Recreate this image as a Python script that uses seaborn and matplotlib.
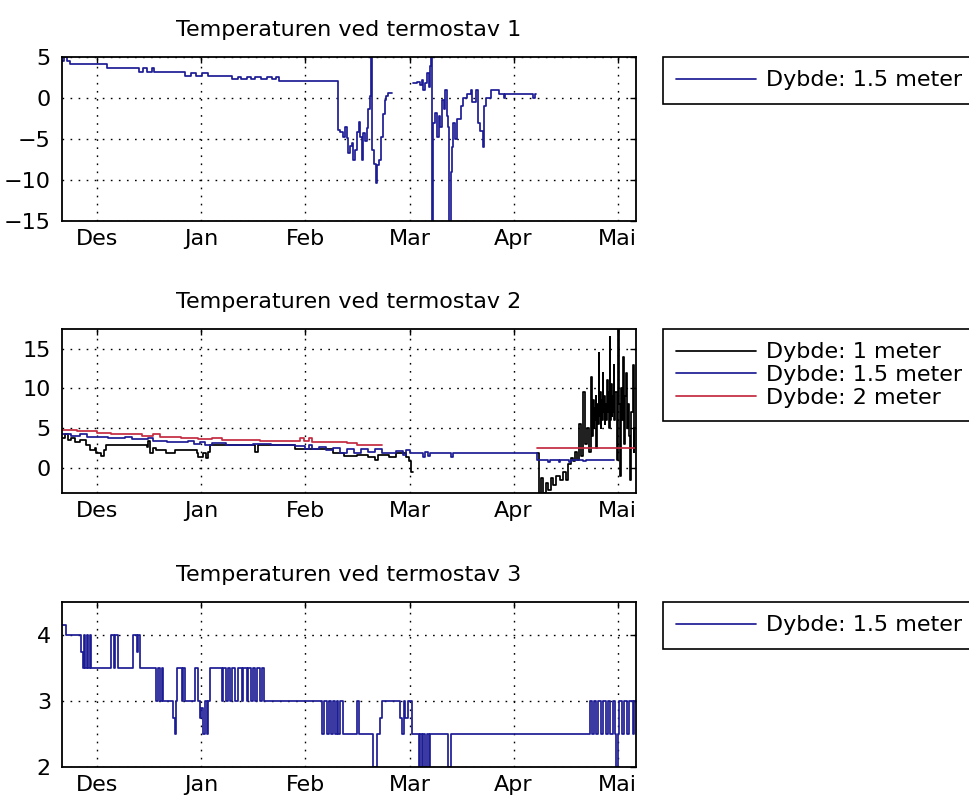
import numpy as np
import pandas as pd
import matplotlib
matplotlib.use("Agg")
import matplotlib.pyplot as plt
from matplotlib.lines import Line2D
import seaborn as sns

sns.set_style("white")
plt.rcParams['font.family'] = ['DejaVu Sans']
plt.rcParams['font.size'] = 16
plt.rcParams['text.color'] = 'black'
plt.rcParams['axes.labelcolor'] = 'black'
plt.rcParams['xtick.color'] = 'black'
plt.rcParams['ytick.color'] = 'black'

# x-akse: dager regnet fra 1. desember, jevnt fordelte maanedsmerker
month_ticks = [0, 30, 60, 90, 120, 150]
month_labels = ['Des', 'Jan', 'Feb', 'Mar', 'Apr', 'Mai']
x_lim = (-10.2, 155.3)

nan = np.nan

# Termostav 1, dybde 1.5 m
t1_day = [-10.2, -9.6, -8.8, -8.0, 2.9, 12.0, 13.2, 14.4, 15.7, 16.3, 25.4, 27.0, 28.3,
          30.2, 32.0, 38.7, 40.5, 41.5, 43.0, 44.2, 45.5, 47.2, 49.0, 50.3, 51.5, 52.3,
          69.3, 70.0, 70.9, 71.4, 71.9, 72.4, 72.9, 73.3, 73.8, 74.3, 74.8, 75.3, 75.7,
          76.2, 76.7, 77.2, 77.7, 78.1, 78.6, 78.9, 79.3, 79.9, 80.3, 80.7, 81.3, 81.8,
          82.3, 82.8, 83.2, 83.9, 84.9,
          84.95,
          91.1, 92.1, 93.1, 93.5, 94.0, 94.5, 95.0, 95.5, 95.9, 96.1, 96.6, 96.9, 97.4,
          97.9, 98.4, 98.8, 99.3, 99.8, 100.3, 100.8, 101.0, 101.4, 101.9, 102.3, 102.6,
          103.1, 103.6, 104.9, 105.5, 106.7, 107.7, 108.1, 109.1, 109.7, 110.3, 111.3,
          111.5, 112.1, 113.4, 115.8, 117.2, 117.6, 125.5, 126.1, 126.4]
t1_temp = [4.5, 5.0, 4.5, 4.1, 3.6, 3.2, 3.6, 3.2, 3.6, 3.2, 2.7, 3.1, 2.7,
           3.1, 2.7, 2.3, 2.6, 2.3, 2.6, 2.3, 2.6, 2.3, 2.6, 2.3, 2.6, 2.1,
           -3.9, -4.1, -4.7, -3.5, -4.9, -6.7, -5.9, -5.5, -7.6, -6.3, -4.1, -2.9, -4.7,
           -7.6, -4.3, -5.3, -3.7, -1.4, 0.2, 6.0, -6.3, -8.0, -10.4, -8.2, -7.6, -4.7,
           -2.0, -0.2, 0.2, 0.6, 0.6,
           nan,
           1.8, 2.0, 1.6, 2.2, 1.0, 1.8, 3.1, 1.4, 3.9, 6.0, -16.0, -3.1, -1.8,
           -4.7, -2.2, -3.5, -0.2, -1.4, 1.0, -2.2, -3.5, -16.0, -9.0, -6.0, -3.0,
           -5.0, -2.5, -1.0, 0.0, 0.5, 1.0, -0.5, 1.0, -3.0, -4.0, -6.0,
           -1.0, 0.0, 1.0, 0.5, 0.0, 0.5, 0.0, 0.5, 0.5]

# Termostav 2, dybde 1 m
t2a_day = [-10.2, -9.4, -8.5, -7.5, -6.5, -5.1, -3.2, -2.0, -0.8, -0.3, 1.0, 2.0, 2.6,
           14.2, 14.6, 15.3, 16.1, 17.0, 19.9, 22.3, 28.6, 29.1, 30.5, 31.2, 32.0, 32.4,
           45.0, 45.4, 46.4, 57.0, 66.1, 68.0, 71.0, 75.0, 78.0, 80.0, 81.0, 84.0, 86.0,
           89.0, 89.9, 90.5, 90.9,
           91.0,
           126.7, 127.2, 128.0, 128.6, 129.3, 130.0, 130.8, 131.5, 132.2, 133.4, 134.2,
           135.0, 135.8, 136.5, 137.2, 137.8, 138.3, 138.8, 139.3, 139.9, 140.5, 141.1,
           141.7, 142.3, 142.6, 142.9, 143.1, 143.3, 143.5, 143.7, 143.9, 144.1, 144.3,
           144.5, 144.7, 144.9, 145.1, 145.3, 145.5, 145.7, 145.9, 146.1, 146.3, 146.5,
           146.7, 146.9, 147.1, 147.3, 147.5, 147.7, 147.9, 148.1, 148.3, 148.5, 148.7,
           148.9, 149.1, 149.3, 149.7, 150.1, 150.4, 150.7, 151.0, 151.3, 151.6, 151.9,
           152.2, 152.5, 152.8, 153.1, 153.4, 153.7, 154.0, 154.3, 154.6, 154.8, 155.3]
t2a_temp = [3.8, 4.3, 3.5, 3.7, 3.2, 3.5, 2.8, 2.2, 2.5, 1.8, 1.5, 2.2, 2.9,
            2.6, 3.4, 1.9, 2.5, 2.2, 1.8, 2.2, 1.8, 1.3, 1.8, 1.2, 2.0, 2.9,
            2.9, 2.0, 2.9, 2.4, 2.4, 1.9, 1.5, 1.6, 1.4, 1.0, 1.6, 1.4, 1.8,
            1.4, 0.9, -0.5, -0.5,
            nan,
            1.8, -3.2, -1.3, -3.2, -2.0, -2.8, -1.3, -2.2, -1.0, -1.6, -0.6,
            -1.5, 0.5, 1.2, 0.8, 2.0, 1.0, 5.5, 1.5, 9.5, 3.0, 5.0,
            2.0, 11.5, 4.0, 8.5, 5.0, 7.5, 6.0, 9.0, 2.5, 8.0, 5.5,
            14.5, 6.5, 9.5, 5.0, 8.5, 6.0, 12.0, 7.0, 9.0, 5.5, 8.0,
            6.0, 11.0, 7.0, 9.5, 5.0, 16.5, 6.0, 10.5, 6.5, 9.0, 7.0,
            13.0, 6.0, 9.5, 1.0, 17.5, 8.0, -1.0, 10.0, 6.0, 14.0, 3.0,
            9.0, 12.0, 5.0, 8.0, 4.0, -1.5, 7.0, 13.0, 2.0, 5.0, 5.0]

# Termostav 2, dybde 1.5 m
t2b_day = [-10.2, -7.5, -5.0, -3.0, 3.0, 8.0, 10.0, 14.5, 16.0, 20.0, 26.0, 28.0, 29.5,
           31.0, 33.0, 37.0, 45.0, 50.0, 57.0, 60.0, 61.0, 62.0, 64.0, 66.0, 68.0, 70.0,
           72.0, 74.0, 76.0, 78.0, 80.0, 82.0, 86.0, 88.0, 89.0, 90.0, 93.8, 94.5, 95.2,
           95.8, 102.0, 102.6, 126.7, 130.0, 130.6, 133.0, 133.5, 136.0, 136.6, 140.0,
           141.0, 149.0]
t2b_temp = [4.3, 4.0, 4.3, 3.9, 3.8, 3.9, 3.6, 3.7, 3.4, 3.3, 3.4, 3.0, 3.3,
            2.9, 3.1, 2.9, 3.0, 2.8, 2.7, 2.3, 2.8, 2.4, 2.6, 2.2, 2.5, 1.9,
            2.3, 1.8, 2.3, 2.0, 2.4, 1.9, 2.1, 1.6, 2.2, 1.8, 1.4, 2.0, 1.5,
            1.8, 1.4, 1.8, 1.0, 0.7, 1.0, 0.7, 1.0, 0.7, 1.0, 0.8,
            1.0, 1.0]

# Termostav 2, dybde 2 m
t2c_day = [-10.2, -6.0, 0.0, 4.0, 11.0, 13.0, 16.0, 18.0, 24.0, 29.0, 33.0, 36.0, 47.0,
           57.0, 58.5, 59.5, 61.0, 62.0, 65.0, 72.0, 75.0, 82.0,
           82.1,
           126.7, 155.3]
t2c_temp = [4.8, 4.6, 4.4, 4.2, 4.3, 4.0, 4.2, 3.9, 3.8, 3.6, 3.7, 3.5, 3.4,
            3.4, 3.8, 3.4, 3.7, 3.3, 3.2, 3.1, 2.9, 2.9,
            nan,
            2.5, 2.5]

# Termostav 3, dybde 1.5 m
t3_day = [-10.2, -9.0, -4.8, -4.2, -3.9, -3.5, -3.1, -2.7, -2.2, -1.7, 3.8, 4.8, 5.0, 6.0,
          10.4, 11.3, 11.7, 12.2, 17.0, 17.5, 18.0, 18.5, 19.0, 19.4, 21.8, 22.3, 22.6,
          23.0, 24.3, 24.7, 25.4, 28.1, 29.1, 29.5, 30.0, 30.5, 31.0, 31.5, 32.0, 32.4,
          33.4, 35.8, 36.3, 37.2, 37.7, 38.2, 38.7, 39.7, 40.6, 41.6, 42.1, 43.0, 43.5,
          44.3, 44.8, 45.4, 45.9, 46.9, 47.4, 48.1, 64.7, 65.4, 66.1, 66.8, 67.4, 68.0,
          68.5, 69.0, 69.5, 70.0, 70.9, 71.4, 74.8, 75.3, 79.6, 80.6, 81.5, 82.0, 87.3,
          87.8, 88.3, 88.7, 89.7, 90.7, 92.6, 93.1, 93.5, 94.0, 94.5, 95.0, 95.5, 96.0,
          96.9, 101.2, 102.0, 141.9, 142.5, 143.1, 143.7, 144.3, 145.3, 145.8, 146.7,
          147.3, 147.9, 148.6, 149.2, 149.5, 150.0, 150.4, 151.3, 151.9, 152.8, 153.4,
          154.3, 154.7, 155.3]
t3_temp = [4.15, 4.0, 3.75, 3.5, 4.0, 3.5, 4.0, 3.5, 4.0, 3.5, 4.0, 3.5, 4.0, 3.5,
           4.0, 3.75, 4.0, 3.5, 3.0, 3.5, 3.0, 3.5, 3.0, 3.0, 2.75, 2.5, 3.0,
           3.5, 3.0, 3.5, 3.0, 3.5, 3.0, 2.75, 2.9, 2.5, 3.0, 2.5, 3.0, 3.5,
           3.5, 3.0, 3.5, 3.0, 3.5, 3.0, 3.5, 3.0, 3.5, 3.0, 3.5, 3.0, 3.5,
           3.0, 3.5, 3.0, 3.5, 3.0, 3.5, 3.0, 2.5, 3.0, 2.5, 3.0, 2.5, 3.0,
           2.5, 3.0, 2.5, 3.0, 2.5, 2.5, 3.0, 2.5, 2.0, 2.5, 2.75, 3.0, 2.75,
           2.5, 3.0, 2.75, 3.0, 2.5, 2.0, 2.5, 2.0, 2.5, 2.0, 2.5, 2.0, 2.5,
           2.5, 2.0, 2.5, 3.0, 2.5, 3.0, 2.5, 3.0, 2.5, 3.0, 2.5,
           3.0, 2.5, 3.0, 2.5, 2.0, 2.5, 3.0, 2.5, 3.0, 2.5, 3.0,
           2.5, 3.0, 3.0]

blue = '#1c1c94'
red = '#c42a40'
black = '#000000'

panels = [
    ('Temperaturen ved termostav 1', (-15, 5), [-15, -10, -5, 0, 5],
     [(t1_day, t1_temp, blue, 'Dybde: 1.5 meter')]),
    ('Temperaturen ved termostav 2', (-3.2, 17.5), [0, 5, 10, 15],
     [(t2a_day, t2a_temp, black, 'Dybde: 1 meter'),
      (t2b_day, t2b_temp, blue, 'Dybde: 1.5 meter'),
      (t2c_day, t2c_temp, red, 'Dybde: 2 meter')]),
    ('Temperaturen ved termostav 3', (2, 4.5), [2, 3, 4],
     [(t3_day, t3_temp, blue, 'Dybde: 1.5 meter')]),
]

W, H = 969, 798
fig = plt.figure(figsize=(W / 100, H / 100), dpi=100)
fig.patch.set_facecolor('white')

# piksel-posisjoner (topp, bunn) for hver akse
boxes = [(57, 221), (329, 493), (602, 767)]
left, right = 62, 636

for (title, ylim, yticks, series), (top, bottom) in zip(panels, boxes):
    ax = fig.add_axes([left / W, 1 - bottom / H, (right - left) / W, (bottom - top) / H])
    handles = []
    for days, temps, color, label in series:
        df = pd.DataFrame({'dag': days, 'temp': temps})
        df['seg'] = df['temp'].isna().cumsum()
        df = df.dropna()
        for _, g in df.groupby('seg'):
            sns.lineplot(data=g, x='dag', y='temp', ax=ax, color=color, lw=1.25,
                         drawstyle='steps-post', estimator=None, sort=False)
        handles.append(Line2D([], [], color=color, lw=1.25, label=label))

    ax.set_xlim(*x_lim)
    ax.set_ylim(*ylim)
    ax.set_xticks(month_ticks)
    ax.set_xticklabels(month_labels)
    ax.set_yticks(yticks)
    ax.set_xlabel('')
    ax.set_ylabel('')
    ax.set_title(title, fontsize=16, pad=15, color='black')
    ax.grid(True, color='black', linestyle=(0, (1.2, 4.6)), linewidth=1.0)
    ax.tick_params(direction='in', top=True, right=True, length=4, width=1.0,
                   labelsize=16, colors='black')
    ax.tick_params(axis='x', pad=6)
    ax.tick_params(axis='y', pad=8)
    for s in ax.spines.values():
        s.set_visible(True)
        s.set_color('black')
        s.set_linewidth(1.3)

    leg = ax.legend(handles=handles, loc='upper left',
                    bbox_to_anchor=(663 / W, 1 - top / H), bbox_transform=fig.transFigure,
                    borderaxespad=0, fontsize=16, handlelength=3.6, handletextpad=0.45,
                    borderpad=0.6, labelspacing=0.12, fancybox=False, framealpha=1)
    leg.get_frame().set_edgecolor('black')
    leg.get_frame().set_linewidth(1.2)
    for txt in leg.get_texts():
        txt.set_color('black')

fig.savefig('out.png', dpi=100)
